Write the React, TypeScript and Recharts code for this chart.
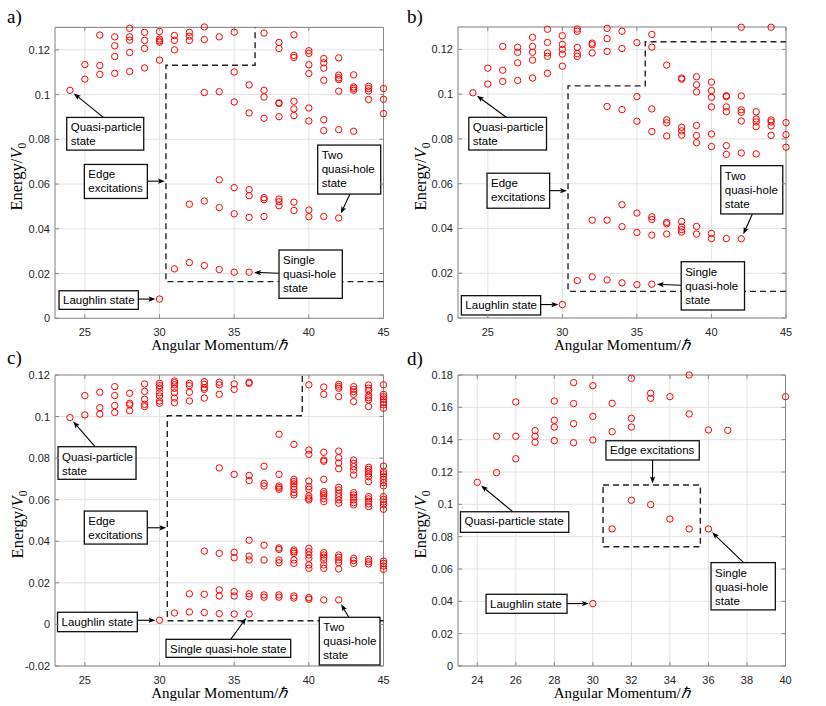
import React from 'react';
import { ScatterChart, Scatter, XAxis, YAxis, CartesianGrid, ReferenceArea, ReferenceDot } from 'recharts';

// angular momentum values shared by panels a-c
const momenta = [24, 25, 26, 27, 28, 29, 30, 31, 32, 33, 34, 35, 36, 37, 38, 39, 40, 41, 42, 43, 44, 45];

// energies (units of V0) per momentum, panel a
const energyA = [
  [0.1019],
  [0.1134, 0.1069],
  [0.1266, 0.113, 0.109],
  [0.1258, 0.1218, 0.117, 0.1095],
  [0.1296, 0.1258, 0.1243, 0.1188, 0.1103],
  [0.1278, 0.1242, 0.1206, 0.1119],
  [0.1282, 0.1248, 0.124, 0.1234, 0.1154, 0.0086],
  [0.1264, 0.1242, 0.12, 0.0221],
  [0.1278, 0.1261, 0.1242, 0.051, 0.0249],
  [0.1302, 0.1246, 0.1009, 0.0524, 0.0236],
  [0.1258, 0.1013, 0.0619, 0.0495, 0.0218],
  [0.1279, 0.1101, 0.0967, 0.0584, 0.0467, 0.0206],
  [0.1043, 0.0918, 0.0575, 0.0548, 0.0451, 0.0206],
  [0.1275, 0.1019, 0.0989, 0.0894, 0.0539, 0.053, 0.0455],
  [0.1233, 0.1206, 0.0963, 0.096, 0.0901, 0.0533, 0.0521, 0.0503],
  [0.1267, 0.1175, 0.1166, 0.097, 0.0936, 0.0906, 0.0519, 0.0482],
  [0.1196, 0.1184, 0.1133, 0.1094, 0.094, 0.0882, 0.0484, 0.0454],
  [0.1161, 0.1142, 0.1118, 0.1064, 0.0888, 0.0839, 0.0455],
  [0.1164, 0.1087, 0.1075, 0.1067, 0.1015, 0.0843, 0.0448],
  [0.1088, 0.1034, 0.1027, 0.1019, 0.0836],
  [0.1037, 0.1027, 0.1016, 0.0978],
  [0.1027, 0.0979, 0.0915],
];

// panel b
const energyB = [
  [0.1006],
  [0.1116, 0.1045],
  [0.1213, 0.1107, 0.1057],
  [0.1209, 0.1187, 0.114, 0.1061],
  [0.1254, 0.1213, 0.1187, 0.1152, 0.1072],
  [0.129, 0.1231, 0.1184, 0.1169, 0.1093],
  [0.1261, 0.1222, 0.12, 0.1179, 0.1125, 0.006],
  [0.1291, 0.1281, 0.1209, 0.1181, 0.1169, 0.0167],
  [0.1228, 0.1221, 0.1184, 0.0437, 0.0184],
  [0.1294, 0.1248, 0.1191, 0.0945, 0.0437, 0.017],
  [0.1281, 0.1204, 0.0931, 0.0506, 0.0408, 0.0157],
  [0.123, 0.0989, 0.0879, 0.0469, 0.0382, 0.0149],
  [0.1267, 0.121, 0.0934, 0.0833, 0.0452, 0.044, 0.037, 0.0151],
  [0.113, 0.0885, 0.0872, 0.0813, 0.0427, 0.0421, 0.0375],
  [0.1072, 0.1067, 0.0852, 0.0836, 0.0817, 0.0431, 0.0407, 0.0395, 0.0384],
  [0.1078, 0.1042, 0.101, 0.086, 0.0815, 0.0783, 0.0409, 0.0375],
  [0.1054, 0.1016, 0.0986, 0.0943, 0.0822, 0.0766, 0.0378, 0.0355],
  [0.0993, 0.0989, 0.0943, 0.0922, 0.077, 0.0731, 0.0355],
  [0.1299, 0.0992, 0.093, 0.0919, 0.088, 0.0737, 0.0354],
  [0.0921, 0.0889, 0.0876, 0.0855, 0.0733],
  [0.1299, 0.0885, 0.0876, 0.0858, 0.0816],
  [0.0873, 0.0819, 0.0763],
];

// panel c
const energyC = [
  [0.0995],
  [0.1101, 0.1008],
  [0.1117, 0.1043, 0.1012],
  [0.1144, 0.1101, 0.1053, 0.102],
  [0.1112, 0.1064, 0.1056, 0.1028],
  [0.1157, 0.1121, 0.1083, 0.1059, 0.1048],
  [0.116, 0.1149, 0.1137, 0.1115, 0.1099, 0.1075, 0.1064, 0.002],
  [0.1171, 0.1163, 0.1153, 0.1136, 0.1115, 0.1089, 0.1067, 0.0055],
  [0.116, 0.1149, 0.1117, 0.1075, 0.0147, 0.006],
  [0.1168, 0.1155, 0.1139, 0.1131, 0.1089, 0.0353, 0.0145, 0.0057],
  [0.1165, 0.1153, 0.1107, 0.0753, 0.0342, 0.0166, 0.0137, 0.0052],
  [0.1157, 0.1131, 0.0722, 0.0347, 0.0321, 0.0158, 0.0137, 0.005],
  [0.1165, 0.116, 0.0717, 0.0692, 0.0405, 0.0329, 0.031, 0.0147, 0.0134, 0.005],
  [0.0761, 0.0679, 0.0666, 0.0381, 0.031, 0.0142, 0.0131],
  [0.0915, 0.0722, 0.0666, 0.0658, 0.065, 0.0368, 0.0361, 0.031, 0.0297, 0.0142, 0.0131],
  [0.0866, 0.0698, 0.0687, 0.0676, 0.0663, 0.065, 0.0634, 0.0623, 0.0358, 0.035, 0.0342, 0.031, 0.0294, 0.0137, 0.0127],
  [0.1153, 0.0839, 0.0818, 0.069, 0.0663, 0.065, 0.0618, 0.0607, 0.0599, 0.0366, 0.035, 0.0334, 0.0318, 0.0286, 0.027, 0.0129, 0.0121],
  [0.1142, 0.1107, 0.0828, 0.0791, 0.0785, 0.0698, 0.0639, 0.0629, 0.062, 0.0605, 0.0591, 0.0345, 0.0334, 0.0323, 0.031, 0.0286, 0.027, 0.0118],
  [0.1155, 0.1145, 0.1136, 0.1096, 0.0834, 0.0802, 0.0777, 0.0749, 0.066, 0.0647, 0.0631, 0.0615, 0.0599, 0.0583, 0.0334, 0.0323, 0.031, 0.0297, 0.0267, 0.0118],
  [0.1144, 0.1131, 0.112, 0.1107, 0.1072, 0.0791, 0.0775, 0.0759, 0.0743, 0.0719, 0.0634, 0.0623, 0.0612, 0.0599, 0.0586, 0.0575, 0.0318, 0.0307, 0.0294],
  [0.1152, 0.1136, 0.1125, 0.1102, 0.1091, 0.108, 0.1048, 0.0756, 0.0746, 0.0735, 0.0724, 0.0711, 0.0687, 0.0615, 0.0604, 0.0592, 0.058, 0.0567, 0.0313, 0.0302, 0.0291],
  [0.1153, 0.1107, 0.1096, 0.1085, 0.107, 0.1056, 0.104, 0.0762, 0.0735, 0.0724, 0.0711, 0.0698, 0.0682, 0.0666, 0.0615, 0.0602, 0.0589, 0.0575, 0.0554, 0.0305, 0.0294, 0.0281, 0.0265],
];

// panel d
const momentaD = [24, 25, 26, 27, 28, 29, 30, 31, 32, 33, 34, 35, 36, 37, 40];
const energyD = [
  [0.1136],
  [0.1421, 0.1196],
  [0.1633, 0.1421, 0.1282],
  [0.1456, 0.1421, 0.1384],
  [0.1639, 0.152, 0.1478, 0.1394],
  [0.1753, 0.1623, 0.1499, 0.1381],
  [0.1734, 0.1544, 0.1398, 0.0386],
  [0.1625, 0.1449, 0.0848],
  [0.1779, 0.1532, 0.1478, 0.1025],
  [0.1687, 0.1656, 0.0998],
  [0.1666, 0.0909],
  [0.18, 0.1559, 0.0848],
  [0.146, 0.0848],
  [0.1458],
  [0.1666],
];

// dashed boundaries (angular momentum, energy)
const boundaryA = [
  { x: 45, y: 0.0164 }, { x: 30.43, y: 0.0164 }, { x: 30.43, y: 0.1131 },
  { x: 36.4, y: 0.1131 }, { x: 36.4, y: 0.13 },
];
const boundaryB = [
  { x: 45, y: 0.0119 }, { x: 30.38, y: 0.0119 }, { x: 30.38, y: 0.1037 },
  { x: 35.56, y: 0.1037 }, { x: 35.56, y: 0.1234 }, { x: 45, y: 0.1234 },
];
const boundaryC = [
  { x: 45, y: 0.0018 }, { x: 30.52, y: 0.0018 }, { x: 30.52, y: 0.1004 },
  { x: 39.56, y: 0.1004 }, { x: 39.56, y: 0.12 },
];
const boundaryD = [
  { x: 30.53, y: 0.112 }, { x: 35.58, y: 0.112 }, { x: 35.58, y: 0.0738 },
  { x: 30.53, y: 0.0738 }, { x: 30.53, y: 0.112 },
];

const ticksX = [25, 30, 35, 40, 45];
const ticksXD = [24, 26, 28, 30, 32, 34, 36, 38, 40];
const ticksYAB = [0, 0.02, 0.04, 0.06, 0.08, 0.1, 0.12];
const ticksYC = [-0.02, 0, 0.02, 0.04, 0.06, 0.08, 0.1, 0.12];
const ticksYD = [0, 0.02, 0.04, 0.06, 0.08, 0.1, 0.12, 0.14, 0.16, 0.18];

type Callout = {
  x: number;
  y: number;
  lines: string[];
  box: [number, number, number, number]; // px offset from anchor: left, top, w, h
  from: [number, number]; // arrow start, px offset from anchor
  gap: number;
};

const calloutsA: Callout[] = [
  { x: 24, y: 0.1019, lines: ['Quasi-particle', 'state'], box: [-3.2, 27.1, 77, 32.7], from: [33.4, 27.1], gap: 5 },
  { x: 30.43, y: 0.0613, lines: ['Edge', 'excitations'], box: [-81.6, -16.7, 63, 34], from: [-18.6, 0], gap: 1 },
  { x: 42, y: 0.0448, lines: ['Two', 'quasi-hole', 'state'], box: [-21, -73, 63, 49], from: [11.3, -24], gap: 5 },
  { x: 36, y: 0.0206, lines: ['Single', 'quasi-hole', 'state'], box: [29.9, -22.2, 63.3, 48.3], from: [29.9, 1], gap: 5 },
  { x: 30, y: 0.0086, lines: ['Laughlin state'], box: [-100.5, -8.3, 79.3, 18.6], from: [-21.2, 0], gap: 4 },
];
const calloutsB: Callout[] = [
  { x: 24, y: 0.1006, lines: ['Quasi-particle', 'state'], box: [-4.1, 24.5, 77.7, 32.7], from: [33.3, 24.5], gap: 5 },
  { x: 30.38, y: 0.0569, lines: ['Edge', 'excitations'], box: [-81, -17.4, 62.6, 35], from: [-18.4, 0], gap: 1 },
  { x: 42, y: 0.0354, lines: ['Two', 'quasi-hole', 'state'], box: [-20.5, -73.1, 62, 48.3], from: [11.1, -24.8], gap: 5 },
  { x: 36, y: 0.0151, lines: ['Single', 'quasi-hole', 'state'], box: [29.4, -22.5, 63.3, 48.3], from: [29.4, 1], gap: 5 },
  { x: 30, y: 0.006, lines: ['Laughlin state'], box: [-101, -8.9, 79.3, 19.3], from: [-21.7, 0], gap: 4 },
];
const calloutsC: Callout[] = [
  { x: 24, y: 0.0995, lines: ['Quasi-particle', 'state'], box: [-11.9, 29.1, 78, 32.6], from: [25.1, 29.1], gap: 5 },
  { x: 30.52, y: 0.0465, lines: ['Edge', 'excitations'], box: [-83, -16.7, 63, 33], from: [-20, 0], gap: 1 },
  { x: 30, y: 0.002, lines: ['Laughlin state'], box: [-102, -8, 79.8, 19.4], from: [-22.2, 0], gap: 4 },
  { x: 36, y: 0.005, lines: ['Single quasi-hole state'], box: [-83.1, 25.3, 124.7, 18], from: [-18.4, 25.3], gap: 5 },
  { x: 42, y: 0.0118, lines: ['Two', 'quasi-hole', 'state'], box: [-19.4, 17.4, 60.7, 47.7], from: [10, 17.4], gap: 5 },
];
const calloutsD: Callout[] = [
  { x: 24, y: 0.1136, lines: ['Quasi-particle state'], box: [-16.8, 29.4, 108.3, 20.6], from: [35.5, 29.4], gap: 5 },
  { x: 33.1, y: 0.112, lines: ['Edge excitations'], box: [-46.6, -44.2, 93.3, 19.3], from: [0, -24.9], gap: 1.5 },
  { x: 36, y: 0.0848, lines: ['Single', 'quasi-hole', 'state'], box: [2.6, 33.7, 64.3, 47.3], from: [35.2, 33.7], gap: 5 },
  { x: 30, y: 0.0386, lines: ['Laughlin state'], box: [-106.8, -9.3, 81, 19], from: [-25.8, 0], gap: 4 },
];

const AXIS = '#8a8a8a';
const SANS = '"Liberation Sans", Arial, Helvetica, sans-serif';
const SERIF = '"Liberation Serif", "Times New Roman", serif';

const toPoints = (xs: number[], es: number[][]) =>
  xs.flatMap((m, i) => es[i].map((e) => ({ x: m, y: e })));

const fmt = (v: number) => String(Number(v.toFixed(2)));

const Circle = (props: any) => {
  const { cx, cy } = props;
  if (cx == null || cy == null) return null;
  return <circle cx={cx} cy={cy} r={3.2} fill="none" stroke="#ff0000" strokeWidth={1} />;
};

const CalloutShape = (props: any) => {
  const { cx, cy, c } = props;
  if (cx == null || cy == null) return null;
  const [bx, by, bw, bh] = c.box;
  const sx = cx + c.from[0];
  const sy = cy + c.from[1];
  const len = Math.hypot(cx - sx, cy - sy);
  const ux = (cx - sx) / len;
  const uy = (cy - sy) / len;
  const tx = cx - ux * c.gap;
  const ty = cy - uy * c.gap;
  const hl = 7;
  const hw = 2.6;
  const px = tx - ux * hl;
  const py = ty - uy * hl;
  const head = `${tx},${ty} ${px - uy * hw},${py + ux * hw} ${px + ux * 1.5},${py + uy * 1.5} ${px + uy * hw},${py - ux * hw}`;
  const single = c.lines.length === 1;
  return (
    <g>
      <line x1={sx} y1={sy} x2={px + ux * 1.5} y2={py + uy * 1.5} stroke="#000" strokeWidth={1.1} />
      <polygon points={head} fill="#000" />
      <rect x={cx + bx} y={cy + by} width={bw} height={bh} fill="#fff" stroke="#111" strokeWidth={1.3} />
      <text fontFamily={SANS} fontSize={11.5} fill="#000">
        {c.lines.map((l: string, i: number) => (
          <tspan key={i} x={cx + bx + 4} y={cy + by + (single ? 13.6 : 14) + i * 14}>
            {l}
          </tspan>
        ))}
      </text>
    </g>
  );
};

type PanelProps = {
  left: number;
  top: number;
  width: number;
  height: number;
  right: number;
  xAxisH: number;
  xDomain: [number, number];
  yDomain: [number, number];
  xTicks: number[];
  yTicks: number[];
  points: { x: number; y: number }[];
  boundary: { x: number; y: number }[];
  callouts: Callout[];
};

const AXIS_W = 55;
const TOP = 27;

const Panel: React.FC<PanelProps> = (p) => {
  const plotW = p.width - AXIS_W - p.right;
  const plotH = p.height - TOP - p.xAxisH;

  const yTick = (props: any) => {
    const { x, y, payload } = props;
    const x0 = x + 5;
    return (
      <g>
        <line x1={x0} x2={x0 + 4} y1={y} y2={y} stroke={AXIS} />
        <line x1={x0 + plotW} x2={x0 + plotW - 4} y1={y} y2={y} stroke={AXIS} />
        <text x={x} y={y + 4} textAnchor="end" fontFamily={SANS} fontSize={11} fill="#262626">
          {fmt(payload.value)}
        </text>
      </g>
    );
  };

  const xTick = (props: any) => {
    const { x, y, payload } = props;
    const y0 = y - 5;
    return (
      <g>
        <line x1={x} x2={x} y1={y0} y2={y0 - 4} stroke={AXIS} />
        <line x1={x} x2={x} y1={y0 - plotH} y2={y0 - plotH + 4} stroke={AXIS} />
        <text x={x} y={y + 12.5} textAnchor="middle" fontFamily={SANS} fontSize={11} fill="#262626">
          {payload.value}
        </text>
      </g>
    );
  };

  // axis titles, placed from the panel geometry
  const lx = AXIS_W - 32.5;
  const ly = TOP + plotH / 2 + 4;
  const bx = AXIS_W + plotW / 2;
  const by = TOP + plotH + 32;

  return (
    <div style={{ position: 'absolute', left: p.left, top: p.top, width: p.width, height: p.height }}>
      <ScatterChart width={p.width} height={p.height} margin={{ top: TOP, right: p.right, left: 0, bottom: 0 }}>
        <CartesianGrid stroke="#e3e3e3" strokeWidth={1} />
        <XAxis
          type="number"
          dataKey="x"
          domain={p.xDomain}
          ticks={p.xTicks}
          interval={0}
          height={p.xAxisH}
          axisLine={false}
          tickLine={false}
          tickSize={0}
          tickMargin={5}
          tick={xTick}
        />
        <YAxis
          type="number"
          dataKey="y"
          domain={p.yDomain}
          ticks={p.yTicks}
          interval={0}
          width={AXIS_W}
          axisLine={false}
          tickLine={false}
          tickSize={0}
          tickMargin={5}
          tick={yTick}
        />
        <ReferenceArea
          x1={p.xDomain[0]}
          x2={p.xDomain[1]}
          y1={p.yDomain[0]}
          y2={p.yDomain[1]}
          fill="none"
          stroke={AXIS}
          strokeWidth={1}
        />
        <Scatter
          data={p.boundary}
          line={{ stroke: '#222', strokeWidth: 1.4, strokeDasharray: '6 4' }}
          shape={() => null}
          isAnimationActive={false}
        />
        <Scatter data={p.points} shape={<Circle />} isAnimationActive={false} />
        {p.callouts.map((c, i) => (
          <ReferenceDot key={i} x={c.x} y={c.y} r={0} shape={(sp: any) => <CalloutShape {...sp} c={c} />} />
        ))}
      </ScatterChart>
      <svg width={p.width} height={p.height} style={{ position: 'absolute', left: 0, top: 0, pointerEvents: 'none' }}>
        <text x={lx} y={ly} transform={`rotate(-90 ${lx} ${ly})`} textAnchor="middle" fontFamily={SERIF} fontSize={16.5} fill="#000">
          <tspan>Energy/</tspan>
          <tspan fontStyle="italic">V</tspan>
          <tspan fontSize={11.5} dy={4}>0</tspan>
        </text>
        <text x={bx} y={by} textAnchor="middle" fontFamily={SERIF} fontSize={15} fill="#000">
          Angular Momentum/<tspan fontStyle="italic">ℏ</tspan>
        </text>
      </svg>
    </div>
  );
};

export default function App() {
  return (
    <div style={{ position: 'absolute', left: 0, top: 0, width: 826, height: 706, overflow: 'hidden', background: '#fff' }}>
      <Panel
        left={0} top={0} width={413} height={360} right={29.5} xAxisH={41.7}
        xDomain={[23, 45]} yDomain={[0, 0.13]} xTicks={ticksX} yTicks={ticksYAB}
        points={toPoints(momenta, energyA)} boundary={boundaryA} callouts={calloutsA}
      />
      <Panel
        left={402.5} top={0} width={413} height={360} right={30} xAxisH={42}
        xDomain={[23, 45]} yDomain={[0, 0.13]} xTicks={ticksX} yTicks={ticksYAB}
        points={toPoints(momenta, energyB)} boundary={boundaryB} callouts={calloutsB}
      />
      <Panel
        left={0} top={348} width={413} height={355} right={29.5} xAxisH={37}
        xDomain={[23, 45]} yDomain={[-0.02, 0.12]} xTicks={ticksX} yTicks={ticksYC}
        points={toPoints(momenta, energyC)} boundary={boundaryC} callouts={calloutsC}
      />
      <Panel
        left={402.5} top={348} width={413} height={355} right={30.5} xAxisH={37}
        xDomain={[23, 40]} yDomain={[0, 0.18]} xTicks={ticksXD} yTicks={ticksYD}
        points={toPoints(momentaD, energyD)} boundary={boundaryD} callouts={calloutsD}
      />
      <svg width={826} height={706} style={{ position: 'absolute', left: 0, top: 0, pointerEvents: 'none' }}>
        <text x={7} y={23} fontFamily={SERIF} fontSize={19}>a)</text>
        <text x={407} y={23} fontFamily={SERIF} fontSize={19}>b)</text>
        <text x={7} y={364} fontFamily={SERIF} fontSize={19}>c)</text>
        <text x={407} y={365} fontFamily={SERIF} fontSize={19}>d)</text>
      </svg>
    </div>
  );
}
